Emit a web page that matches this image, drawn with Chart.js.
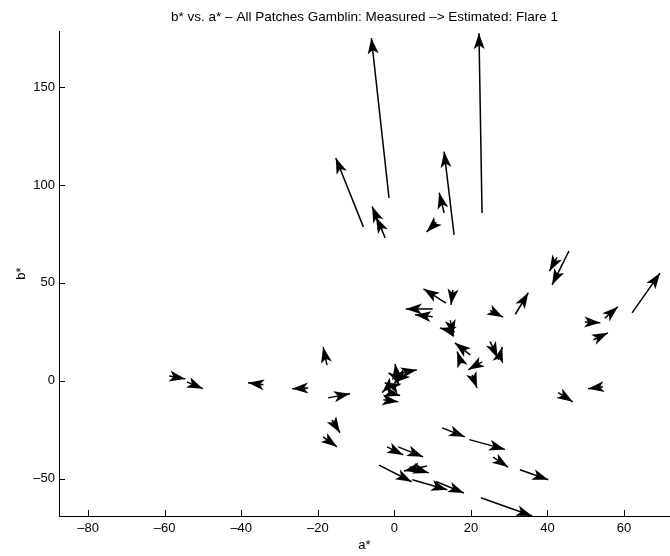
<!DOCTYPE html>
<html>
<head>
<meta charset="utf-8">
<script src="https://cdn.jsdelivr.net/npm/chart.js@4/dist/chart.umd.min.js"></script>
<style>
  html, body { margin: 0; padding: 0; background: #fff; }
  #wrap { width: 670px; height: 556px; }
</style>
</head>
<body>
<div id="wrap"><canvas id="quiver"></canvas></div>
<script>
// measured (tail) -> estimated (head) in a*/b*
var measuredA  = [-1.4, 22.9, -8.1, -2.4, -3.2, 11.0, 15.6, 13.0,
                  45.6, 42.5, 62.1, 31.6, 13.5, 15.3, 10.0, 10.0, 25.0, 14.6, 15.8, 19.8, 17.5, 25.0, 27.2, 22.9, 20.3, 49.8, 55.0, 52.0, 42.8, 54.5,
                  -58.8, -54.2, -34.2, -22.5, -17.6, -17.3, -16.3, -18.6,
                  1.5, 0.7, 1.0, -1.1, -2.9, 0.0, -1.5, 2.5,
                  -1.9, 1.0, 12.5, 19.6, 25.8, 32.8, -4.0, 4.7, 10.9, 22.6, 8.5, 4.0];
var measuredB  = [93.4, 85.7, 78.6, 73.0, 77.0, 81.0, 74.5, 85.7,
                  66.3, 63.0, 34.7, 34.0, 39.7, 46.4, 36.7, 32.7, 36.0, 31.0, 25.0, 13.3, 9.0, 20.0, 10.7, 9.7, 3.0, 30.0, 32.0, 21.0, -6.0, -3.0,
                  2.5, -0.5, -2.0, -3.6, 8.0, -8.7, -20.0, -28.6,
                  4.0, 2.0, 1.0, -2.0, -9.7, -3.0, -6.0, 3.0,
                  -33.7, -33.7, -24.0, -30.0, -39.0, -45.4, -43.0, -50.5, -51.4, -59.7, -43.5, -44.0];
var estimatedA = [-6.0, 22.1, -15.3, -5.8, -4.8, 8.4, 13.0, 11.7,
                  41.2, 40.5, 69.4, 35.0, 7.6, 14.8, 3.0, 5.4, 28.4, 15.4, 11.9, 15.8, 16.4, 27.0, 28.2, 19.3, 21.6, 53.8, 58.4, 55.8, 46.6, 50.6,
                  -54.6, -50.0, -38.2, -26.7, -18.6, -11.6, -14.2, -15.0,
                  5.9, 0.2, -1.5, -3.2, 1.0, -2.5, 1.5, 0.0,
                  2.3, 7.5, 18.4, 28.9, 29.7, 40.2, 4.5, 13.8, 18.2, 36.0, 2.5, 9.0];
var estimatedB = [175.0, 177.5, 113.8, 89.0, 83.5, 76.0, 117.0, 96.0,
                  49.0, 56.0, 55.0, 45.0, 47.0, 38.8, 36.7, 33.7, 32.5, 23.0, 27.0, 19.4, 15.0, 11.7, 17.3, 5.6, -3.6, 29.6, 37.8, 24.5, -10.7, -4.0,
                  1.0, -4.0, -1.0, -4.0, 17.3, -6.6, -26.5, -33.7,
                  5.6, 8.7, 4.0, -6.0, -10.7, -1.0, -7.5, -1.0,
                  -37.8, -38.8, -28.6, -35.0, -44.0, -50.5, -51.5, -55.6, -57.3, -69.0, -46.0, -47.0];

var xTicks = [-80, -60, -40, -20, 0, 20, 40, 60];
var yTicks = [-50, 0, 50, 100, 150];

var font = "'Liberation Sans', Arial, Helvetica, sans-serif";

function dashMinus(v) {
  return v < 0 ? '\u2013' + Math.abs(v) : String(v);
}

// one two-point line per arrow shaft
var datasets = measuredA.map(function (a, i) {
  return {
    data: [{x: a, y: measuredB[i]}, {x: estimatedA[i], y: estimatedB[i]}],
    showLine: true,
    borderColor: '#000',
    borderWidth: 1.5,
    pointRadius: 0,
    pointHoverRadius: 0
  };
});

// filled barbed heads at the estimated end, plus inward tick marks
var quiverHeads = {
  id: 'quiverHeads',
  afterDatasetsDraw: function (chart) {
    var ctx = chart.ctx, xs = chart.scales.x, ys = chart.scales.y;
    var area = chart.chartArea;
    ctx.save();
    ctx.beginPath();
    ctx.rect(area.left, 0, area.right - area.left, area.bottom);
    ctx.clip();
    ctx.fillStyle = '#000';
    for (var i = 0; i < measuredA.length; i++) {
      var x0 = xs.getPixelForValue(measuredA[i]), y0 = ys.getPixelForValue(measuredB[i]);
      var x1 = xs.getPixelForValue(estimatedA[i]), y1 = ys.getPixelForValue(estimatedB[i]);
      var ang = Math.atan2(y1 - y0, x1 - x0);
      var ux = Math.cos(ang), uy = Math.sin(ang);
      var px = -uy, py = ux;
      var L = 16, W = 5.5, N = 12;
      ctx.beginPath();
      ctx.moveTo(x1, y1);
      ctx.lineTo(x1 - L * ux + W * px, y1 - L * uy + W * py);
      ctx.lineTo(x1 - N * ux, y1 - N * uy);
      ctx.lineTo(x1 - L * ux - W * px, y1 - L * uy - W * py);
      ctx.closePath();
      ctx.fill();
    }
    ctx.restore();

    ctx.save();
    ctx.strokeStyle = '#000';
    ctx.lineWidth = 1;
    ctx.beginPath();
    xTicks.forEach(function (v) {
      var px = Math.round(xs.getPixelForValue(v)) + 0.5;
      ctx.moveTo(px, area.bottom);
      ctx.lineTo(px, area.bottom - 6);
    });
    yTicks.forEach(function (v) {
      var py = Math.round(ys.getPixelForValue(v)) + 0.5;
      ctx.moveTo(area.left, py);
      ctx.lineTo(area.left + 6, py);
    });
    ctx.stroke();
    ctx.restore();
  }
};

new Chart(document.getElementById('quiver'), {
  type: 'scatter',
  data: { datasets: datasets },
  options: {
    responsive: true,
    maintainAspectRatio: false,
    animation: false,
    events: [],
    layout: { padding: 0 },
    plugins: {
      legend: { display: false },
      tooltip: { enabled: false }
    },
    scales: {
      x: {
        type: 'linear',
        min: -87.6,
        max: 72,
        afterBuildTicks: function (scale) {
          scale.ticks = xTicks.map(function (v) { return {value: v}; });
        },
        afterFit: function (scale) { scale.height = 40; },
        grid: { display: true, drawOnChartArea: false, drawTicks: false },
        border: { display: true, color: '#000', width: 1 },
        ticks: {
          color: '#000',
          padding: 5,
          maxRotation: 0,
          font: { family: font, size: 13 },
          callback: dashMinus
        },
        title: {
          display: true,
          text: 'a*',
          color: '#000',
          font: { family: font, size: 13 },
          padding: { top: 0, bottom: 3 }
        }
      },
      // top axis carries only the plot title, centred over the axes
      top: {
        type: 'linear',
        position: 'top',
        min: -87.6,
        max: 72,
        afterFit: function (scale) { scale.height = 31; },
        grid: { display: false },
        border: { display: false },
        ticks: { display: false },
        title: {
          display: true,
          text: 'b* vs. a* \u2013 All Patches Gamblin: Measured \u2013> Estimated: Flare 1',
          color: '#000',
          font: { family: font, size: 13.5 },
          padding: { top: 9, bottom: 0 }
        }
      },
      y: {
        type: 'linear',
        min: -69,
        max: 178.6,
        afterBuildTicks: function (scale) {
          scale.ticks = yTicks.map(function (v) { return {value: v}; });
        },
        afterFit: function (scale) { scale.width = 59; },
        grid: { display: true, drawOnChartArea: false, drawTicks: false },
        border: { display: true, color: '#000', width: 1 },
        ticks: {
          color: '#000',
          padding: 4,
          font: { family: font, size: 13 },
          callback: dashMinus
        },
        title: {
          display: true,
          text: 'b*',
          color: '#000',
          font: { family: font, size: 13 },
          padding: { top: 14, bottom: 0 }
        }
      }
    }
  },
  plugins: [quiverHeads]
});
</script>
</body>
</html>
